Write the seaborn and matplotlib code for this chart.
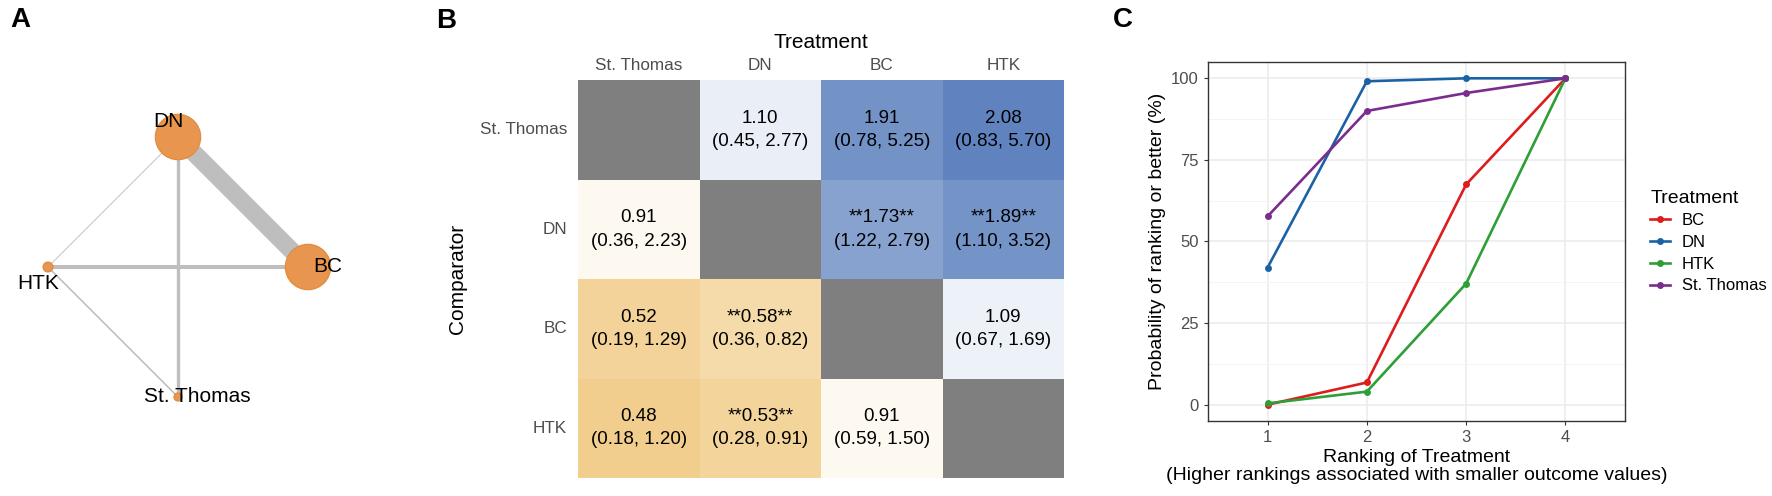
import numpy as np
import pandas as pd
import matplotlib
matplotlib.use("Agg")
import matplotlib.pyplot as plt
import seaborn as sns
from matplotlib.colors import LinearSegmentedColormap

# ---- panel A: network of comparisons ----
nodes = ["DN", "BC", "HTK", "St. Thomas"]
node_x = [0, 1, -1, 0]
node_y = [1, 0, 0, -1]
node_weight = [1.0, 1.0, 0.22, 0.18]          # relative node size
edge_from = ["DN", "HTK", "DN", "DN", "HTK"]
edge_to = ["BC", "BC", "St. Thomas", "HTK", "St. Thomas"]
edge_weight = [1.0, 0.23, 0.19, 0.06, 0.09]   # relative edge thickness

# ---- panel B: league table ----
treatments = ["St. Thomas", "DN", "BC", "HTK"]
nan = np.nan
est = [[nan, 1.10, 1.91, 2.08],
       [0.91, nan, 1.73, 1.89],
       [0.52, 0.58, nan, 1.09],
       [0.48, 0.53, 0.91, nan]]
ci_low = [[nan, 0.45, 0.78, 0.83],
          [0.36, nan, 1.22, 1.10],
          [0.19, 0.36, nan, 0.67],
          [0.18, 0.28, 0.59, nan]]
ci_high = [[nan, 2.77, 5.25, 5.70],
           [2.23, nan, 2.79, 3.52],
           [1.29, 0.82, nan, 1.69],
           [1.20, 0.91, 1.50, nan]]

# ---- panel C: cumulative ranking probabilities ----
ranks = [1, 2, 3, 4]
prob_bc = [0, 6.8, 67.5, 100]
prob_dn = [42, 99.1, 100, 100]
prob_htk = [0.4, 4.0, 37.1, 100]
prob_st = [57.7, 90, 95.5, 100]
line_treatments = ["BC", "DN", "HTK", "St. Thomas"]

plt.rcParams["font.family"] = ["Liberation Sans", "DejaVu Sans"]

W, H = 1772, 496
fig = plt.figure(figsize=(W / 100, H / 100), dpi=100)


def box(x0, y0, x1, y1):
    # pixel box (top-left origin) -> figure fraction rect
    return [x0 / W, 1 - y1 / H, (x1 - x0) / W, (y1 - y0) / H]


# ================= A =================
axA = fig.add_axes(box(9, 98, 347, 436))
pos = {n: (x, y) for n, x, y in zip(nodes, node_x, node_y)}
for a, b, w in zip(edge_from, edge_to, edge_weight):
    col = "#C8C8C8" if w < 0.08 else "#BEBEBE"
    axA.plot([pos[a][0], pos[b][0]], [pos[a][1], pos[b][1]],
             color=col, lw=12.7 * w, solid_capstyle="butt", zorder=1)
axA.scatter(node_x, node_y, s=[1069 * w ** 2 for w in node_weight],
            color="#E8964F", edgecolor="#E08A3C", linewidth=0.8, zorder=3)
label_offset = {"DN": (-7, 11), "BC": (14, 0), "HTK": (-7, -12), "St. Thomas": (14, 0)}
for n in nodes:
    axA.annotate(n, pos[n], xytext=label_offset[n], textcoords="offset points",
                 ha="center", va="center", fontsize=15, color="black", zorder=4)
axA.set_xlim(-1.3, 1.3)
axA.set_ylim(-1.3, 1.3)
axA.axis("off")

# ================= B =================
axB = fig.add_axes(box(578, 80, 1064, 478))
est_df = pd.DataFrame(est, index=treatments, columns=treatments)
labels = []
for i in range(4):
    row = []
    for j in range(4):
        if np.isnan(est[i][j]):
            row.append("")
            continue
        v = f"{est[i][j]:.2f}"
        if ci_low[i][j] > 1 or ci_high[i][j] < 1:
            v = f"**{v}**"
        row.append(f"{v}\n({ci_low[i][j]:.2f}, {ci_high[i][j]:.2f})")
    labels.append(row)
labels = np.array(labels)

cmap = LinearSegmentedColormap.from_list("league", ["#F1CE8C", "#FFFFFF", "#5F82BE"])
axB.set_facecolor("#7F7F7F")
sns.heatmap(np.log(est_df), annot=labels, fmt="", cmap=cmap, vmin=-0.74, vmax=0.74,
            cbar=False, linewidths=0,
            annot_kws={"fontsize": 13.5, "color": "black", "linespacing": 1.5}, ax=axB)
axB.xaxis.tick_top()
axB.xaxis.set_label_position("top")
axB.set_xticklabels(treatments, rotation=0)
axB.set_yticklabels(treatments, rotation=0)
axB.tick_params(length=0, labelsize=12.3, labelcolor="#4D4D4D")
axB.tick_params(axis="x", pad=5)
axB.tick_params(axis="y", pad=8)
axB.set_xlabel("Treatment", fontsize=15, labelpad=7)
axB.set_ylabel("Comparator", fontsize=15, labelpad=9)

# ================= C =================
axC = fig.add_axes(box(1208, 62, 1625, 421))
df = pd.DataFrame({
    "rank": ranks * 4,
    "prob": prob_bc + prob_dn + prob_htk + prob_st,
    "Treatment": [t for t in line_treatments for _ in ranks],
})
palette = {"BC": "#DD1C1C", "DN": "#1B62A5", "HTK": "#2E9E36", "St. Thomas": "#7B2D8E"}
sns.lineplot(data=df, x="rank", y="prob", hue="Treatment", hue_order=line_treatments,
             palette=palette, marker="o", markersize=5, markeredgewidth=0,
             linewidth=1.9, ax=axC)
axC.set_xlim(0.4, 4.6)
axC.set_ylim(-5, 105)
axC.set_xticks(ranks)
axC.set_yticks([0, 25, 50, 75, 100])
axC.set_yticks([12.5, 37.5, 62.5, 87.5], minor=True)
axC.set_axisbelow(True)
axC.grid(which="major", color="#EBEBEB", linewidth=1.1)
axC.grid(which="minor", axis="y", color="#F3F3F3", linewidth=0.6)
for s in axC.spines.values():
    s.set_color("#333333")
    s.set_linewidth(1.0)
axC.tick_params(which="major", length=3, color="#333333", labelsize=12, labelcolor="#4D4D4D")
axC.tick_params(which="minor", length=0)
axC.set_xlabel("Ranking of Treatment\n(Higher rankings associated with smaller outcome values)",
               fontsize=14, linespacing=1.1, labelpad=3)
axC.set_ylabel("Probability of ranking or better (%)", fontsize=14, labelpad=4)
leg = axC.legend(title="Treatment", loc="center left", bbox_to_anchor=(1.045, 0.5),
                 frameon=False, fontsize=12, title_fontsize=14, borderaxespad=0,
                 handlelength=1.2, handletextpad=0.7, labelspacing=0.4)
leg._legend_box.align = "left"

# panel letters
for letter, x, y in [("A", 20, 20), ("B", 446, 21), ("C", 1123, 20)]:
    fig.text(x / W, 1 - y / H, letter, fontsize=20, fontweight="bold",
             ha="center", va="center")

fig.savefig("out.png", dpi=100)
